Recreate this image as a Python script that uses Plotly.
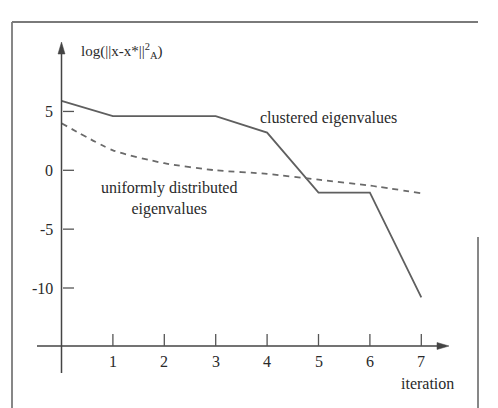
import plotly.graph_objects as go

# ---- data ----
iterations = [0, 1, 2, 3, 4, 5, 6, 7]
clustered = [5.9, 4.6, 4.6, 4.6, 3.2, -1.9, -1.9, -10.8]
uniform = [4.0, 1.7, 0.6, 0.0, -0.3, -0.8, -1.3, -1.95]
x_ticks = [1, 2, 3, 4, 5, 6, 7]
y_ticks = [5, 0, -5, -10]

OFF = 8  # page body margin
W, H = 490, 400
# screen-pixel scale of the axes
X0, SX = 61.5 - OFF, 51.4
Y0, SY = 170.3 - OFF, 11.77
xr = [(0 - X0) / SX, (W - X0) / SX]
yr = [(Y0 - H) / SY, (Y0 - 0) / SY]

def dx(px):
    return (px - OFF - X0) / SX

def dy(py):
    return (Y0 - (py - OFF)) / SY

FONT = "'Liberation Serif', 'Times New Roman', 'DejaVu Serif', serif"
TXT = "#2a2a2a"
LINE = "#5f5f5f"

fig = go.Figure()
fig.add_trace(go.Scatter(x=iterations, y=clustered, mode="lines",
                         line=dict(color=LINE, width=1.8), hoverinfo="skip"))
fig.add_trace(go.Scatter(x=iterations, y=uniform, mode="lines",
                         line=dict(color="#6a6a6a", width=1.8, dash="6px,5px",
                                   shape="spline", smoothing=0.6),
                         hoverinfo="skip"))

shapes = []
annotations = []
x_axis_y = dy(346)
AX = "#444444"
shapes.append(dict(type="line", xref="x", yref="y", x0=dx(37), x1=dx(440),
                   y0=x_axis_y, y1=x_axis_y, line=dict(color=AX, width=1.5)))
shapes.append(dict(type="line", xref="x", yref="y", x0=0, x1=0,
                   y0=dy(373), y1=dy(50), line=dict(color=AX, width=1.5)))

def P(x, y):
    return f"{dx(x)},{dy(y)}"
shapes.append(dict(type="path", xref="x", yref="y",
                   path=f"M {P(449,346)} L {P(437,342.5)} L {P(437,349.5)} Z",
                   fillcolor=AX, line=dict(color=AX, width=0.5)))
shapes.append(dict(type="path", xref="x", yref="y",
                   path=f"M {P(61.5,42)} L {P(58,54)} L {P(65,54)} Z",
                   fillcolor=AX, line=dict(color=AX, width=0.5)))
for t in x_ticks:
    shapes.append(dict(type="line", xref="x", yref="y", x0=t, x1=t,
                       y0=x_axis_y, y1=x_axis_y + 12 / SY,
                       line=dict(color="#555555", width=1.3)))
    annotations.append(dict(x=t, y=dy(361), xref="x", yref="y", text=str(t),
                            showarrow=False, font=dict(family=FONT, size=16, color=TXT)))
for t in y_ticks:
    shapes.append(dict(type="line", xref="x", yref="y", x0=dx(63), x1=dx(74),
                       y0=t, y1=t, line=dict(color="#555555", width=1.3)))
    annotations.append(dict(x=dx(55), y=t, xref="x", yref="y", text=str(t),
                            xanchor="right", showarrow=False,
                            font=dict(family=FONT, size=16, color=TXT)))

annotations.append(dict(x=dx(79), y=dy(51), xref="x", yref="y", xanchor="left",
                        text="log(||x-x*||<sup>2</sup><sub>A</sub>)", showarrow=False,
                        font=dict(family=FONT, size=15, color=TXT)))
annotations.append(dict(x=dx(427), y=dy(383), xref="x", yref="y",
                        text="iteration", showarrow=False,
                        font=dict(family=FONT, size=16, color=TXT)))
annotations.append(dict(x=dx(328), y=dy(118), xref="x", yref="y",
                        text="clustered eigenvalues", showarrow=False,
                        font=dict(family=FONT, size=16, color=TXT)))
annotations.append(dict(x=dx(169), y=dy(198), xref="x", yref="y",
                        text="uniformly distributed<br>eigenvalues", showarrow=False,
                        font=dict(family=FONT, size=16, color=TXT)))

def px(x):
    return (x - OFF) / W

def py(y):
    return 1 - (y - OFF) / H

for (a, b, c, d) in [(12, 22, 12, 408), (12, 22, 478, 22), (478, 237, 478, 408)]:
    shapes.append(dict(type="line", xref="paper", yref="paper",
                       x0=px(a), y0=py(b), x1=px(c), y1=py(d),
                       line=dict(color="#7a7a7a", width=1.8)))

fig.update_layout(width=W, height=H, margin=dict(l=0, r=0, t=0, b=0),
                  paper_bgcolor="white", plot_bgcolor="white", showlegend=False,
                  font=dict(family=FONT, color=TXT),
                  xaxis=dict(visible=False, range=xr, fixedrange=True),
                  yaxis=dict(visible=False, range=yr, fixedrange=True),
                  shapes=shapes, annotations=annotations)
fig.write_html("out.html")
